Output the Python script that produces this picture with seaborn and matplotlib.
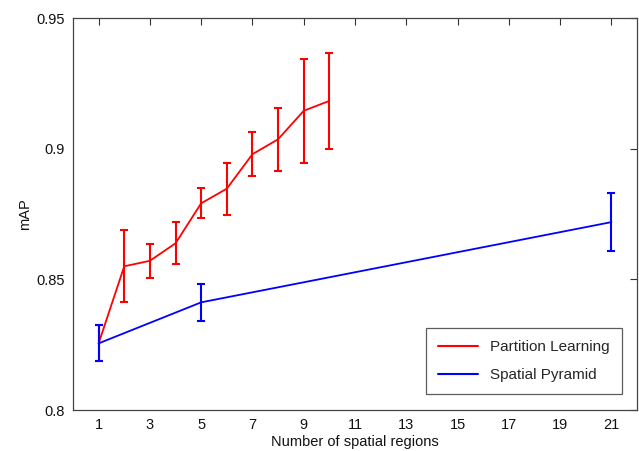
import matplotlib
matplotlib.use("Agg")
import matplotlib.pyplot as plt
import seaborn as sns
import pandas as pd
import numpy as np

# Data
pl_x = [1, 2, 3, 4, 5, 6, 7, 8, 9, 10]
pl_y = [0.8255, 0.855, 0.8571, 0.8638, 0.8791, 0.8847, 0.8979, 0.9036, 0.9145, 0.9183]
pl_err = [0.0069, 0.0138, 0.0065, 0.0081, 0.0058, 0.0099, 0.0083, 0.0120, 0.0200, 0.0185]

sp_x = [1, 5, 21]
sp_y = [0.8255, 0.8412, 0.8719]
sp_err = [0.0069, 0.0070, 0.0110]

labels = ["Partition Learning", "Spatial Pyramid"]
colors = ["#ff0000", "#0000ff"]
xticks = [1, 3, 5, 7, 9, 11, 13, 15, 17, 19, 21]
yticks = [0.8, 0.85, 0.9, 0.95]
ytick_labels = ["0.8", "0.85", "0.9", "0.95"]

sns.set_theme(style="white")
plt.rcParams['font.family'] = ['Liberation Sans', 'DejaVu Sans']

df = pd.DataFrame({
    "x": pl_x + sp_x,
    "y": pl_y + sp_y,
    "method": [labels[0]] * len(pl_x) + [labels[1]] * len(sp_x),
})

fig = plt.figure(figsize=(6.39, 4.51), dpi=100)
ax = fig.add_axes([0.1142, 0.0909, 0.8827, 0.8691])

sns.lineplot(data=df, x="x", y="y", hue="method", palette=colors,
             hue_order=labels, ax=ax, linewidth=1.3, estimator=None, sort=True)

ax.errorbar(pl_x, pl_y, yerr=pl_err, fmt="none", ecolor=colors[0],
            elinewidth=1.5, capsize=3, capthick=1.5, zorder=3)
ax.errorbar(sp_x, sp_y, yerr=sp_err, fmt="none", ecolor=colors[1],
            elinewidth=1.5, capsize=3, capthick=1.5, zorder=4)

ax.set_xlim(0, 22)
ax.set_ylim(0.8, 0.95)
ax.set_xticks(xticks)
ax.set_xticklabels([str(t) for t in xticks])
ax.set_yticks(yticks)
ax.set_yticklabels(ytick_labels)
ax.tick_params(direction="in", length=5, width=0.8, color="#333333",
               top=True, right=True, labelsize=10.5, labelcolor="#111111", pad=6)
for s in ax.spines.values():
    s.set_color("#444444")
    s.set_linewidth(0.9)

ax.set_xlabel("Number of spatial regions", fontsize=10.5, color="#111111", labelpad=2)
ax.set_ylabel("mAP", fontsize=10.5, color="#111111", labelpad=3)

leg = ax.legend(loc="lower right", bbox_to_anchor=(0.973, 0.04), frameon=True,
                fancybox=False, edgecolor="#333333", fontsize=11,
                handlelength=2.6, borderpad=0.8, labelspacing=0.9,
                borderaxespad=0.0)
leg.get_frame().set_linewidth(0.9)
for line in leg.get_lines():
    line.set_linewidth(1.5)

fig.savefig("out.png", dpi=100)
